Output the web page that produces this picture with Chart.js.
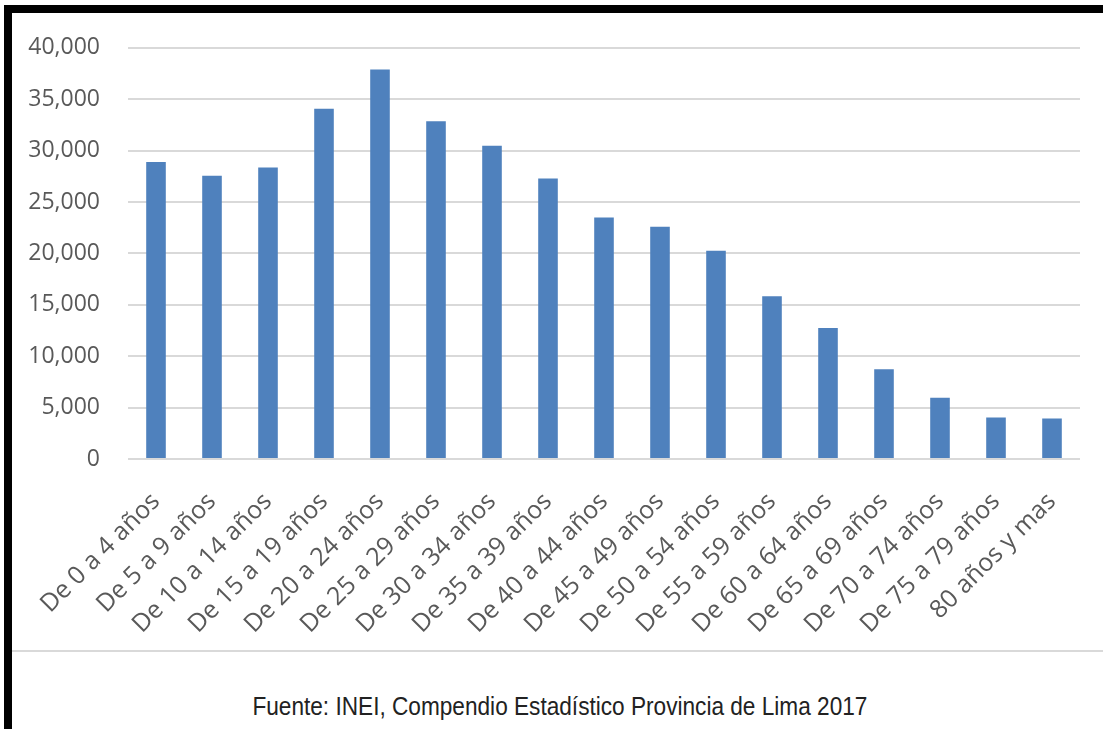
<!DOCTYPE html>
<html lang="es">
<head>
<meta charset="utf-8">
<script src="https://cdn.jsdelivr.net/npm/chart.js@4/dist/chart.umd.min.js"></script>
<style>
    html, body { margin: 0; padding: 0; background: #fff; }
    body { width: 1103px; height: 729px; position: relative; overflow: hidden; }
    #frame {
        position: absolute; left: 4px; top: 5px; width: 1110px; height: 718px;
        border-left: 8px solid #000; border-top: 8px solid #000; border-bottom: 3px solid #000;
    }
    #chart-box { position: absolute; left: 12px; top: 6px; width: 1091px; height: 633px; }
    #separator { position: absolute; left: 12px; top: 650px; width: 1091px; height: 2px; background: #d9d9d9; }
    #source {
        position: absolute; left: 0; top: 692px; width: 1120px; text-align: center;
        font-family: "Liberation Sans", Arial, sans-serif; font-size: 25px; color: #222;
        white-space: nowrap; transform: scaleX(0.905); transform-origin: 559px 0;
    }
</style>
</head>
<body>
<div id="frame"></div>
<div id="chart-box"><canvas id="chart"></canvas></div>
<div id="separator"></div>
<div id="source">Fuente: INEI, Compendio Estadístico Provincia de Lima 2017</div>
<script>
// Age groups (x axis)
const ageGroups = [
    "De 0 a 4 años", "De 5 a 9 años", "De 10 a 14 años", "De 15 a 19 años",
    "De 20 a 24 años", "De 25 a 29 años", "De 30 a 34 años", "De 35 a 39 años",
    "De 40 a 44 años", "De 45 a 49 años", "De 50 a 54 años", "De 55 a 59 años",
    "De 60 a 64 años", "De 65 a 69 años", "De 70 a 74 años", "De 75 a 79 años",
    "80 años y mas",
];

// Population per group
const population = [
    28900, 27550, 28350, 34080, 37900, 32850, 30460, 27280,
    23500, 22590, 20260, 15820, 12740, 8740, 5970, 4030, 3930,
];

// Y axis range
const yMin = 0;
const yMax = 40000;
const yStep = 5000;

/**
 * Formats y tick value with thousands comma
 * @param {Number} value tick value
 * @returns {String} formatted label
 */
function _formatThousands(value) {
    return String(value).replace(/\B(?=(\d{3})+(?!\d))/g, ",");
}

/**
 * Builds the bar chart
 */
function drawChart() {
    const canvas = document.getElementById("chart");
    const yFont = { family: "'Open Sans', sans-serif", size: 23 };
    const xFont = { family: "'Open Sans', sans-serif", size: 25 };

    new Chart(canvas, {
        type: "bar",
        data: {
            labels: ageGroups,
            datasets: [{
                data: population,
                backgroundColor: "#4f81bd",
                borderWidth: 0,
                barPercentage: 0.35,
                categoryPercentage: 1,
            }],
        },
        options: {
            responsive: true,
            maintainAspectRatio: false,
            animation: false,
            layout: { padding: { top: 0, right: 23, left: 0, bottom: 0 } },
            scales: {
                y: {
                    min: yMin,
                    max: yMax,
                    ticks: { stepSize: yStep, color: "#595959", font: yFont, padding: 28, callback: _formatThousands },
                    grid: { color: "#d9d9d9", lineWidth: 2, drawTicks: false },
                    border: { display: false },
                    afterFit: (scale) => { scale.width = 116; },
                },
                x: {
                    ticks: { color: "#595959", font: xFont, minRotation: 45, maxRotation: 45, autoSkip: false, padding: 28 },
                    grid: { display: false, drawTicks: false },
                    border: { display: false },
                    afterFit: (scale) => { scale.height = 180; },
                },
            },
            plugins: {
                legend: { display: false },
                tooltip: { enabled: false },
            },
        },
    });
}

drawChart();
</script>
</body>
</html>
